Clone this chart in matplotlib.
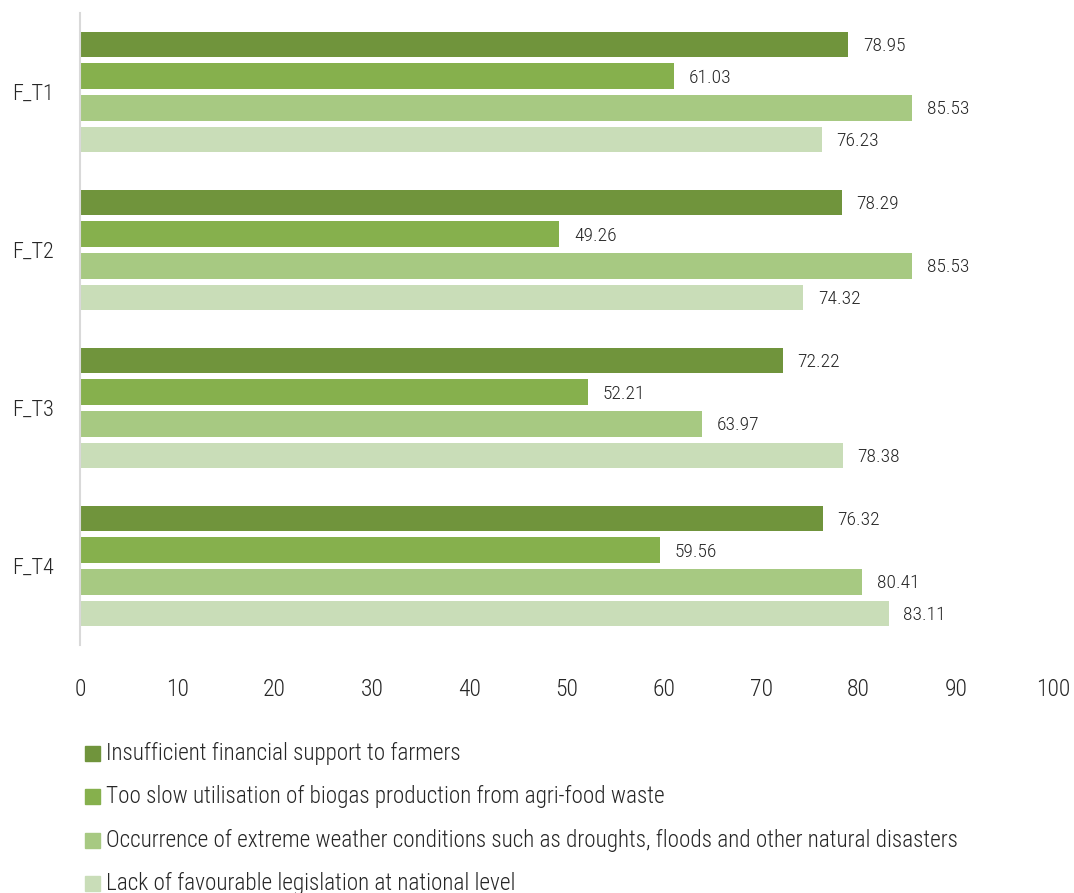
import matplotlib
matplotlib.use("Agg")
from matplotlib import pyplot as plt
from matplotlib.patches import Rectangle

plt.rcParams['font.family'] = ['Roboto Condensed', 'Roboto', 'DejaVu Sans']
plt.rcParams['font.weight'] = 'light'

groups = ['F_T1', 'F_T2', 'F_T3', 'F_T4']
series_names = ['Insufficient financial support to farmers',
                'Too slow utilisation of biogas production from agri-food waste',
                'Occurrence of extreme weather conditions such as droughts, floods and other natural disasters',
                'Lack of favourable legislation at national level']
financial = [78.95, 78.29, 72.22, 76.32]
biogas = [61.03, 49.26, 52.21, 59.56]
weather = [85.53, 85.53, 63.97, 80.41]
legislation = [76.23, 74.32, 78.38, 83.11]
colors = ['#70943c', '#86b04d', '#a7c982', '#c9ddb8']
text_col = '#262626'

fig = plt.figure(figsize=(10.74, 8.93), dpi=100)
ax = fig.add_axes([80/1074, 1 - 645/893, (1053-80)/1074, (645-13)/893])

slot = 0.2
bar_h = 0.162
all_series = [financial, biogas, weather, legislation]
for i, vals in enumerate(all_series):
    ys = [g + 0.5 - 0.3 + i*slot for g in range(len(groups))]
    ax.barh(ys, vals, height=bar_h, color=colors[i], edgecolor='none')
    for y, v in zip(ys, vals):
        ax.text(v + 1.5, y + 0.01, '%.2f' % v, va='center', ha='left', fontsize=14, color=text_col)

ax.set_xlim(0, 100)
ax.set_ylim(len(groups), 0)
ax.set_yticks([g + 0.5 for g in range(len(groups))])
ax.set_yticklabels(groups, fontsize=16, color=text_col)
ax.set_xticks(range(0, 101, 10))
ax.tick_params(axis='both', length=0)
ax.tick_params(axis='x', pad=24, labelsize=17, labelcolor=text_col)
ax.tick_params(axis='y', pad=19)
for s in ['top', 'right', 'bottom']:
    ax.spines[s].set_visible(False)
ax.spines['left'].set_color('#d9d9d9')
ax.spines['left'].set_linewidth(1.5)

# legend
for i, name in enumerate(series_names):
    yc = 1 - (753 + i*43.5)/893
    fig.patches.append(Rectangle((85/1074, yc - 7.5/893), 15/1074, 15/893,
                                 transform=fig.transFigure, color=colors[i], figure=fig))
    fig.text(106/1074, yc, name, va='center', ha='left', fontsize=16.7, color=text_col)

fig.savefig('out.png', dpi=100)
